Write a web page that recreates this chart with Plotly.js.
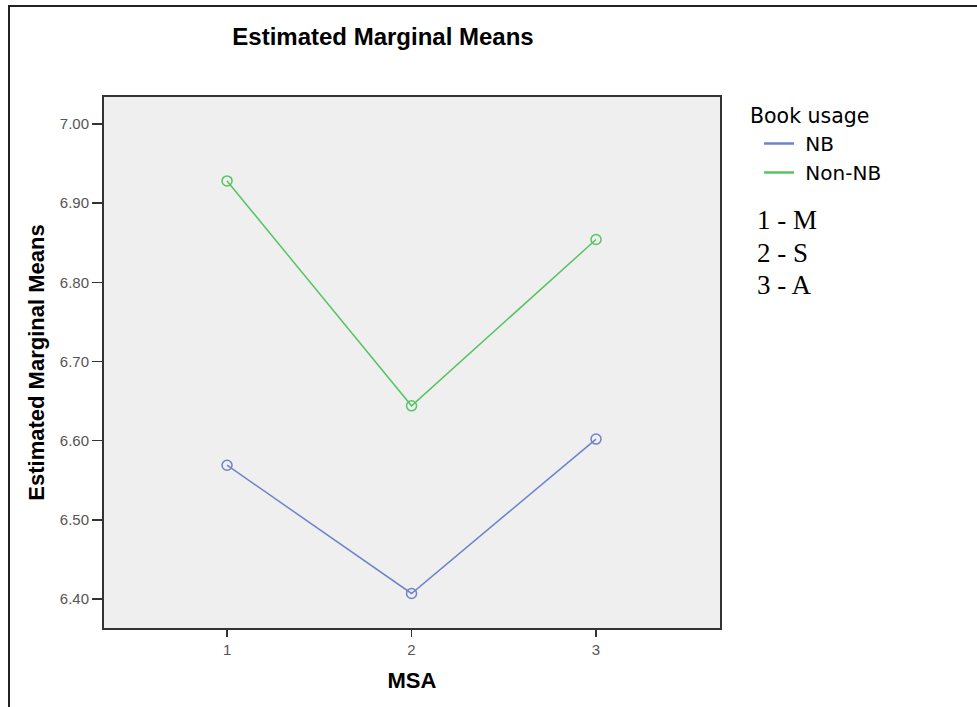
<!DOCTYPE html>
<html>
<head>
<meta charset="utf-8">
<script src="https://cdn.plot.ly/plotly-3.0.1.min.js"></script>
<style>html,body{margin:0;padding:0;background:#fff;}#chart{width:977px;height:707px;}</style>
</head>
<body>
<div id="chart"></div>
<script>
const msa = [1, 2, 3];
const nbMeans = [6.569, 6.407, 6.602];
const nonNbMeans = [6.928, 6.644, 6.854];
const seriesNames = ["NB", "Non-NB"];
const seriesColors = ["#6f82cc", "#58c462"];
const yTickVals = [6.40, 6.50, 6.60, 6.70, 6.80, 6.90, 7.00];
const keyLines = ["1 - M", "2 - S", "3 - A"];
const legendTitle = "Book usage";

const series = [nbMeans, nonNbMeans];
const traces = [];
series.forEach((vals, i) => {
  traces.push({
    x: msa, y: vals, type: 'scatter', mode: 'lines+markers',
    line: {color: seriesColors[i], width: 1.5},
    marker: {symbol: 'circle-open', size: 10, color: seriesColors[i], line: {width: 1.5}},
    showlegend: false, hoverinfo: 'x+y'
  });
});
series.forEach((vals, i) => {
  traces.push({
    x: [null], y: [null], type: 'scatter', mode: 'lines', name: '\u00a0' + seriesNames[i],
    line: {color: seriesColors[i], width: 2.5}, showlegend: true
  });
});

const annotations = keyLines.map((t, i) => ({
  text: t, xref: 'paper', yref: 'paper', showarrow: false,
  x: (755 - 104) / 616, xanchor: 'left',
  y: 1 - (220 + i * 32.5 - 97) / 531, yanchor: 'middle',
  font: {family: 'Liberation Serif, Times New Roman, serif', size: 27, color: '#000'}
}));
annotations.push({
  text: legendTitle, xref: 'paper', yref: 'paper', showarrow: false,
  x: (748 - 104) / 616, xanchor: 'left',
  y: 1 - (116 - 97) / 531, yanchor: 'middle',
  font: {family: 'DejaVu Sans, sans-serif', size: 20.5, color: '#000'}
});

const layout = {
  width: 977, height: 707,
  margin: {l: 104, r: 257, t: 97, b: 79},
  paper_bgcolor: '#ffffff', plot_bgcolor: '#efefef',
  font: {family: 'Liberation Sans, Arial, sans-serif', color: '#000'},
  title: {text: '<b>Estimated Marginal Means</b>', x: 383 / 977, xanchor: 'center', xref: 'container',
          y: 1 - 37 / 707, yanchor: 'middle', yref: 'container',
          font: {size: 24, color: '#000', family: 'Liberation Sans, Arial, sans-serif'}},
  xaxis: {
    range: [0.333, 3.672], tickvals: msa, ticktext: msa.map(String),
    showgrid: false, zeroline: false, showline: true, linecolor: '#333', linewidth: 2, mirror: true,
    ticks: 'outside', ticklen: 7, tickwidth: 1.5, tickcolor: '#333',
    tickfont: {size: 15, color: '#555'},
    title: {text: '<b>MSA</b>', standoff: 16, font: {size: 22, color: '#000'}}
  },
  yaxis: {
    range: [6.3634, 7.034], tickvals: yTickVals, tickformat: '.2f',
    showgrid: false, zeroline: false, showline: true, linecolor: '#333', linewidth: 2, mirror: true,
    ticks: 'outside', ticklen: 10, tickwidth: 1.5, tickcolor: '#333',
    tickfont: {size: 15, color: '#555'},
    title: {text: '<b>Estimated Marginal Means</b>', standoff: 9, font: {size: 22, color: '#000'}}
  },
  legend: {
    x: (759 - 104) / 616, xanchor: 'left', y: 1 - (124 - 97) / 531, yanchor: 'top',
    bgcolor: 'rgba(0,0,0,0)', borderwidth: 0,
    font: {size: 20, family: 'DejaVu Sans, sans-serif', color: '#000'},
    tracegroupgap: 0, itemwidth: 30
  },
  annotations: annotations,
  shapes: [{
    type: 'path', xref: 'paper', yref: 'paper',
    path: 'M ' + ((9 - 104) / 616) + ' ' + (1 - (720 - 97) / 531) +
          ' L ' + ((9 - 104) / 616) + ' ' + (1 + (97 - 6) / 531) +
          ' L ' + ((990 - 104) / 616) + ' ' + (1 + (97 - 6) / 531),
    line: {color: '#222', width: 2}
  }]
};

Plotly.newPlot('chart', traces, layout, {displayModeBar: false, staticPlot: true});
</script>
</body>
</html>
